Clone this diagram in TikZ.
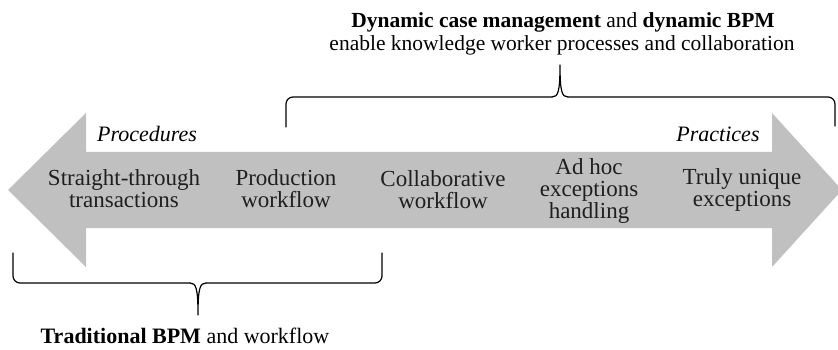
\documentclass[tikz,border=0pt]{standalone}
\usepackage{fontspec}
\setmainfont{Liberation Serif}
\begin{document}
\begin{tikzpicture}[x=1pt,y=-1pt,
  bandtext/.style={align=center, text=black!88, font=\fontsize{23}{22}\selectfont, inner sep=0pt},
  captext/.style={align=center, text=black, font=\fontsize{21.5}{24}\selectfont, inner sep=0pt, anchor=base},
  tagtext/.style={text=black, font=\fontsize{22}{24}\selectfont\itshape, inner sep=0pt, anchor=base},
  braceline/.style={draw=black, line width=1.2pt, line join=round, line cap=round}]
\useasboundingbox (0,0) rectangle (838,350);
\definecolor{arrowgray}{RGB}{192,192,192}
% double arrow
\fill[arrowgray] (8,190) -- (86,113) -- (86,152) -- (772,152) -- (772,113)
  -- (842,190) -- (772,267) -- (772,228) -- (86,228) -- (86,267) -- cycle;
% texts in the band
\node[bandtext] (st) at (124,189) {Straight-through\\transactions};
\node[bandtext] (pw) at (286,189) {Production\\workflow};
\node[bandtext] (cw) at (443,189.5) {Collaborative\\workflow};
\node[bandtext] (ah) at (589,191) {Ad hoc\\exceptions\\handling};
\node[bandtext] (tu) at (742,189.5) {Truly unique\\exceptions};
% end labels
\node[tagtext] (proc) at (147,142) {Procedures};
\node[tagtext] (prac) at (718,142) {Practices};
% top caption
\node[captext] (t1) at (563,28) {\textbf{Dynamic case management} and \textbf{dynamic BPM}};
\node[captext] (t2) at (562,51) {enable knowledge worker processes and collaboration};
% top brace
\draw[braceline, rounded corners=7pt] (286,127) -- (286,97) -- (552,97);
\draw[braceline] (552,97) .. controls (558,97) and (560,92) .. (560,65)
  .. controls (560,92) and (562,97) .. (568,97);
\draw[braceline, rounded corners=7pt] (568,97) -- (835,97) -- (835,126);
% bottom brace
\draw[braceline, rounded corners=7pt] (13,253) -- (13,283) -- (190,283);
\draw[braceline] (190,283) .. controls (196,283) and (198,288) .. (198,315)
  .. controls (198,288) and (200,283) .. (206,283);
\draw[braceline, rounded corners=7pt] (206,283) -- (382,283) -- (382,253);
% bottom caption
\node[captext, font=\fontsize{22}{24}\selectfont] (tb) at (185,343) {\textbf{Traditional BPM} and workflow};
\end{tikzpicture}
\end{document}
